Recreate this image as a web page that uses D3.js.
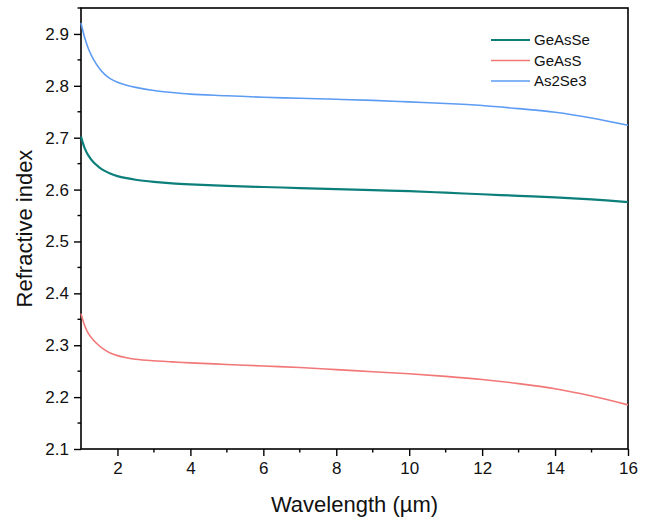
<!DOCTYPE html>
<html>
<head>
<meta charset="utf-8">
<script src="https://cdn.jsdelivr.net/npm/d3@7"></script>
<style>
  body { margin: 0; background: #fff; }
  svg { font-family: Arial, "Liberation Sans", sans-serif; }
</style>
</head>
<body>
<svg width="653" height="521"></svg>
<script>
// wavelength samples (µm)
const wavelength = [1, 1.1, 1.2, 1.35, 1.5, 1.65, 1.8, 2, 2.25, 2.5, 3, 3.5, 4, 5, 6, 7, 8, 9, 10, 11, 12, 13, 14, 15, 16];

// refractive index per material
const geAsSe = [2.702, 2.680, 2.666, 2.652, 2.643, 2.636, 2.631, 2.626, 2.622, 2.619, 2.615, 2.612, 2.610, 2.607, 2.605, 2.603, 2.601, 2.599, 2.597, 2.594, 2.591, 2.588, 2.585, 2.581, 2.576];
const geAsS = [2.361, 2.338, 2.323, 2.309, 2.299, 2.291, 2.285, 2.280, 2.276, 2.273, 2.270, 2.268, 2.266, 2.263, 2.260, 2.257, 2.253, 2.249, 2.245, 2.240, 2.234, 2.226, 2.216, 2.202, 2.185];
const as2Se3 = [2.921, 2.893, 2.872, 2.850, 2.834, 2.822, 2.814, 2.807, 2.801, 2.797, 2.791, 2.787, 2.784, 2.781, 2.778, 2.776, 2.774, 2.772, 2.769, 2.766, 2.762, 2.756, 2.749, 2.738, 2.724];

const seriesNames = ["GeAsSe", "GeAsS", "As2Se3"];
const seriesValues = [geAsSe, geAsS, as2Se3];
const seriesColors = ["#0c7f7b", "#f27777", "#5d9cf3"];
const seriesWidths = [2.2, 1.6, 1.6];

const xTicks = [2, 4, 6, 8, 10, 12, 14, 16];
const yTicks = [2.1, 2.2, 2.3, 2.4, 2.5, 2.6, 2.7, 2.8, 2.9];

const svg = d3.select("svg");
const plotL = 81, plotR = 628, plotT = 8, plotB = 449;

const x = d3.scaleLinear().domain([1, 16]).range([plotL, plotR]);
const y = d3.scaleLinear().domain([2.1, 2.95]).range([plotB, plotT]);

// frame
svg.append("rect")
    .attr("x", plotL).attr("y", plotT)
    .attr("width", plotR - plotL).attr("height", plotB - plotT)
    .attr("fill", "none").attr("stroke", "#000").attr("stroke-width", 1.6);

// minor ticks
const xMinor = d3.range(3, 16, 2);
const yMinor = d3.range(2.15, 2.95, 0.1);
svg.append("g").selectAll("line").data(xMinor).enter().append("line")
    .attr("x1", d => x(d)).attr("x2", d => x(d))
    .attr("y1", plotB).attr("y2", plotB + 3.5)
    .attr("stroke", "#000").attr("stroke-width", 1.4);
svg.append("g").selectAll("line").data(yMinor).enter().append("line")
    .attr("y1", d => y(d)).attr("y2", d => y(d))
    .attr("x1", plotL).attr("x2", plotL - 3.5)
    .attr("stroke", "#000").attr("stroke-width", 1.4);

// axes
const xAxis = svg.append("g")
    .attr("transform", `translate(0,${plotB})`)
    .call(d3.axisBottom(x).tickValues(xTicks).tickSize(7).tickPadding(6).tickFormat(d3.format("d")));
const yAxis = svg.append("g")
    .attr("transform", `translate(${plotL},0)`)
    .call(d3.axisLeft(y).tickValues(yTicks).tickSize(7).tickPadding(5).tickFormat(d3.format(".1f")));

[xAxis, yAxis].forEach(a => {
    a.select(".domain").remove();
    a.selectAll(".tick line").attr("stroke", "#000").attr("stroke-width", 1.4);
    a.selectAll(".tick text").attr("fill", "#111")
        .style("font-size", "17px").style("font-family", "Arial, 'Liberation Sans', sans-serif");
});

// axis titles
svg.append("text")
    .attr("x", (plotL + plotR) / 2).attr("y", 512)
    .attr("text-anchor", "middle")
    .style("font-size", "22px").attr("fill", "#111")
    .text("Wavelength (µm)");
svg.append("text")
    .attr("transform", `translate(32,${(plotT + plotB) / 2}) rotate(-90)`)
    .attr("text-anchor", "middle")
    .style("font-size", "22px").attr("fill", "#111")
    .text("Refractive index");

// curves
const line = d3.line()
    .x(d => x(d[0]))
    .y(d => y(d[1]))
    .curve(d3.curveCatmullRom.alpha(0.5));

seriesValues.forEach((vals, i) => {
    svg.append("path")
        .datum(wavelength.map((w, j) => [w, vals[j]]))
        .attr("fill", "none")
        .attr("stroke", seriesColors[i])
        .attr("stroke-width", seriesWidths[i])
        .attr("d", line);
});

// legend
const legend = svg.append("g").attr("transform", "translate(491,40)");
seriesNames.forEach((name, i) => {
    const row = legend.append("g").attr("transform", `translate(0,${i * 20.5})`);
    row.append("line")
        .attr("x1", 0).attr("x2", 39)
        .attr("stroke", seriesColors[i]).attr("stroke-width", seriesWidths[i]);
    row.append("text")
        .attr("x", 43).attr("dy", "0.35em")
        .style("font-size", "15px").attr("fill", "#111")
        .text(name);
});
</script>
</body>
</html>
